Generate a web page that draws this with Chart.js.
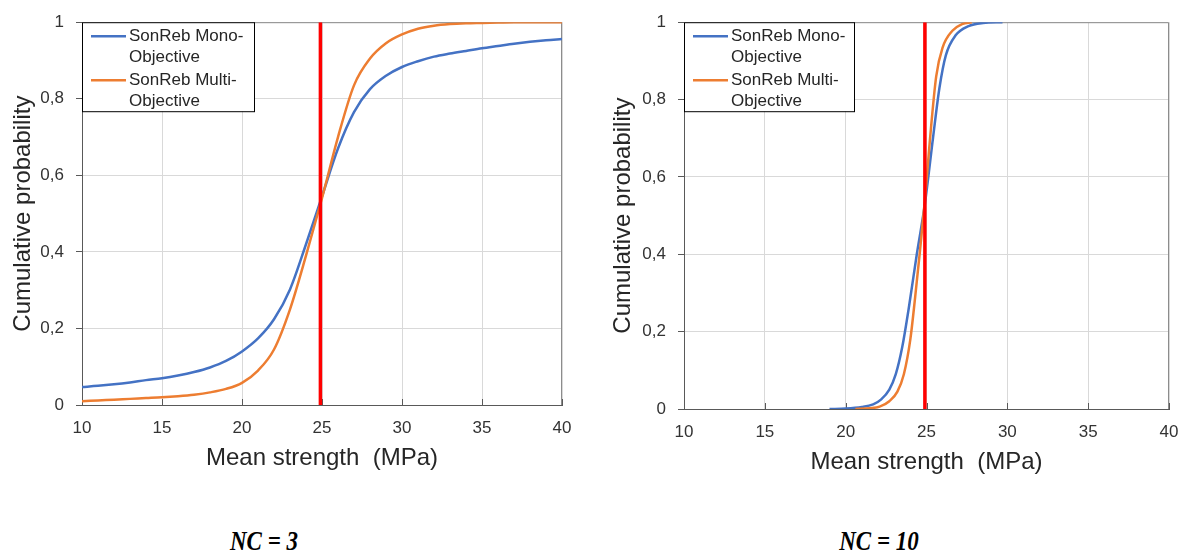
<!DOCTYPE html>
<html>
<head>
<meta charset="utf-8">
<script src="https://cdn.jsdelivr.net/npm/chart.js@4.4.0/dist/chart.umd.min.js"></script>
<style>
body { margin: 0; background: #fff; width: 1187px; height: 555px; position: relative; overflow: hidden; }
.box { position: absolute; top: 0; }
.cap { position: absolute; top: 525px; font: italic bold 28px "Liberation Serif"; color: #000; white-space: nowrap; transform: translateX(-50%) scaleX(0.82); }
</style>
</head>
<body>
<div class="box" style="left:0;width:590px;height:480px"><canvas id="chartNC3"></canvas></div>
<div class="box" style="left:600px;width:587px;height:484px"><canvas id="chartNC10"></canvas></div>
<div class="cap" style="left:264px">NC = 3</div>
<div class="cap" style="left:879px">NC = 10</div>
<script>
const legendLines = [["SonReb Mono-", "Objective"], ["SonReb Multi-", "Objective"]];
const seriesNames = ["SonReb Mono-Objective", "SonReb Multi-Objective"];
const xTicks = [10, 15, 20, 25, 30, 35, 40];
const yTicks = [0, 0.2, 0.4, 0.6, 0.8, 1];
const meanValue = 24.9;

// NC = 3
const nc3X = [10, 11, 12, 13, 14, 15, 16, 17, 18, 19, 20, 21, 22, 23, 24, 25, 26, 27, 28, 29, 30, 31, 32, 33, 34, 35, 36, 37, 38, 39, 40];
const nc3Mono = [0.047, 0.050, 0.054, 0.059, 0.065, 0.070, 0.077, 0.086, 0.098, 0.115, 0.140, 0.174, 0.224, 0.302, 0.420, 0.545, 0.670, 0.765, 0.825, 0.860, 0.883, 0.898, 0.910, 0.918, 0.925, 0.932, 0.938, 0.944, 0.949, 0.953, 0.956];
const nc3Multi = [0.010, 0.012, 0.014, 0.016, 0.018, 0.020, 0.023, 0.027, 0.033, 0.042, 0.058, 0.090, 0.145, 0.250, 0.390, 0.540, 0.700, 0.835, 0.905, 0.945, 0.968, 0.983, 0.991, 0.995, 0.997, 0.998, 0.999, 1, 1, 1, 1];

// NC = 10
const nc10MonoX = [19, 20, 21, 21.7, 22.2, 22.7, 23.1, 23.5, 23.9, 24.4, 24.9, 25.4, 25.8, 26.2, 26.8, 27.6, 28.5, 29.7];
const nc10MonoY = [0, 0.001, 0.005, 0.012, 0.025, 0.05, 0.09, 0.16, 0.26, 0.40, 0.53, 0.70, 0.83, 0.915, 0.966, 0.99, 0.998, 1];
const nc10MultiX = [20.6, 21.5, 22.1, 22.7, 23.2, 23.6, 24, 24.3, 24.6, 24.9, 25.2, 25.6, 26, 26.6, 27.2, 27.8];
const nc10MultiY = [0, 0.002, 0.006, 0.02, 0.045, 0.09, 0.18, 0.29, 0.41, 0.54, 0.69, 0.86, 0.935, 0.978, 0.995, 1];

const colors = ["#4472C4", "#ED7D31"];
const font = "Liberation Sans";

function pts(xs, ys) {
    return xs.map((x, i) => ({ x: x, y: ys[i] }));
}

// plot frame, inward x ticks and the boxed legend
const framePlugin = {
    id: "frame",
    beforeDatasetsDraw(chart) {
        const { ctx, chartArea: a } = chart;
        const xs = chart.scales.x;
        ctx.save();
        ctx.lineWidth = 1;
        ctx.strokeStyle = "#8c8c8c";
        ctx.beginPath();
        ctx.moveTo(a.left, a.top + 0.5);
        ctx.lineTo(a.right - 0.5, a.top + 0.5);
        ctx.lineTo(a.right - 0.5, a.bottom);
        ctx.stroke();
        ctx.strokeStyle = "#595959";
        ctx.beginPath();
        xTicks.forEach(v => {
            const px = Math.round(xs.getPixelForValue(v)) + 0.5;
            ctx.moveTo(px, a.bottom);
            ctx.lineTo(px, a.bottom - 6);
        });
        ctx.stroke();
        ctx.restore();
    },
    afterDraw(chart, args, opts) {
        const { ctx, chartArea: a } = chart;
        const w = opts.legendWidth, h = 89;
        ctx.save();
        ctx.fillStyle = "#fff";
        ctx.fillRect(a.left, a.top, w, h);
        ctx.strokeStyle = "#000";
        ctx.lineWidth = 1;
        ctx.strokeRect(a.left + 0.5, a.top + 0.5, w, h);
        ctx.font = "17px '" + font + "'";
        ctx.textBaseline = "middle";
        ctx.fillStyle = "#262626";
        legendLines.forEach((lines, i) => {
            const y0 = a.top + 14 + i * 44;
            ctx.strokeStyle = colors[i];
            ctx.lineWidth = 2.5;
            ctx.beginPath();
            ctx.moveTo(a.left + 9, y0);
            ctx.lineTo(a.left + 44, y0);
            ctx.stroke();
            lines.forEach((t, j) => ctx.fillText(t, a.left + 47, y0 + j * 21));
        });
        ctx.restore();
    }
};

function makeChart(id, mono, multi, cfg) {
    return new Chart(document.getElementById(id), {
        type: "line",
        data: {
            datasets: [
                { label: seriesNames[0], data: mono, borderColor: colors[0], borderWidth: 2.5, order: 3 },
                { label: seriesNames[1], data: multi, borderColor: colors[1], borderWidth: 2.5, order: 2 },
                { label: "mean", data: [{ x: meanValue, y: 0 }, { x: meanValue, y: 1 }], borderColor: "#FF0000", borderWidth: 3.5, order: 1 }
            ]
        },
        options: {
            responsive: true,
            maintainAspectRatio: false,
            animation: false,
            layout: { padding: { top: cfg.top, right: cfg.right, left: 0, bottom: 0 } },
            elements: {
                point: { radius: 0 },
                line: { cubicInterpolationMode: "monotone", fill: false }
            },
            plugins: {
                legend: { display: false },
                tooltip: { enabled: false },
                frame: { legendWidth: cfg.legendWidth }
            },
            scales: {
                x: {
                    type: "linear", min: 10, max: 40,
                    afterBuildTicks: s => { s.ticks = xTicks.map(v => ({ value: v })); },
                    afterFit: s => { s.height = cfg.xHeight; s.paddingLeft = 0; s.paddingRight = 0; },
                    border: { color: "#595959" },
                    grid: { color: "#d9d9d9", drawTicks: false },
                    ticks: { padding: 13, color: "#333", font: { family: font, size: 17 } },
                    title: { display: true, text: "Mean strength  (MPa)", color: "#262626", font: { family: font, size: 24 }, padding: { top: 0, bottom: 7 } }
                },
                y: {
                    type: "linear", min: 0, max: 1,
                    afterBuildTicks: s => { s.ticks = yTicks.map(v => ({ value: v })); },
                    afterFit: s => { s.width = cfg.yWidth; },
                    border: { color: "#595959" },
                    grid: { color: "#d9d9d9", tickLength: 6, tickColor: "#595959" },
                    ticks: { padding: 12, color: "#333", font: { family: font, size: 17 }, callback: v => String(v).replace(".", ",") },
                    title: { display: true, text: "Cumulative probability", color: "#262626", font: { family: font, size: 24 }, padding: { top: 9, bottom: 0 } }
                }
            }
        },
        plugins: [framePlugin]
    });
}

makeChart("chartNC3", pts(nc3X, nc3Mono), pts(nc3X, nc3Multi),
    { top: 18, right: 28, xHeight: 75, yWidth: 82, legendWidth: 172 });
makeChart("chartNC10", pts(nc10MonoX, nc10MonoY), pts(nc10MultiX, nc10MultiY),
    { top: 17, right: 18, xHeight: 75, yWidth: 84, legendWidth: 170 });
</script>
</body>
</html>
